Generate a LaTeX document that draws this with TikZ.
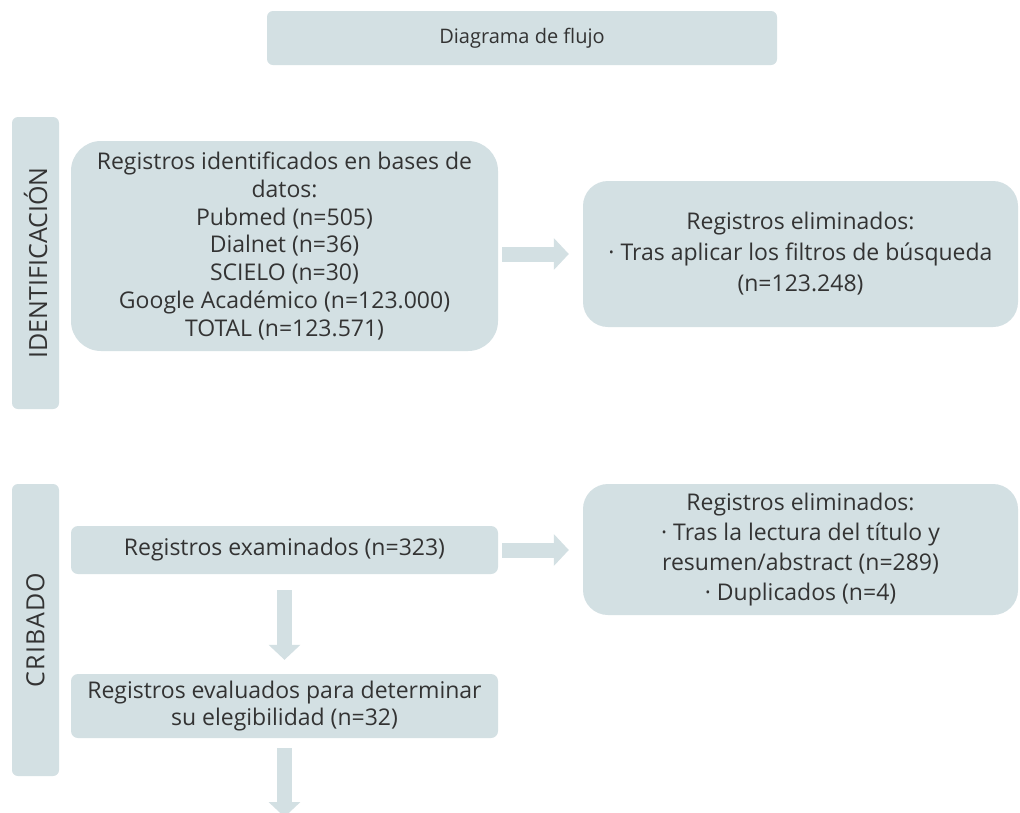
\documentclass[tikz,border=0pt]{standalone}
\usepackage{fontspec}
\setmainfont{Open Sans}
\usetikzlibrary{arrows.meta}
\definecolor{boxfill}{HTML}{D3E0E3}
\definecolor{txt}{HTML}{333333}
\begin{document}
\begin{tikzpicture}[x=1pt,y=-1pt,
  box/.style={fill=boxfill, text=txt, align=center, inner sep=0pt,
    font=\fontsize{23}{27.7}\selectfont},
  sidelabel/.style={box, rounded corners=6pt, rotate=90, minimum width=292pt,
    minimum height=47pt, font=\fontsize{25}{28}\selectfont},
  flowarrow/.style={draw=boxfill, line width=15pt,
    -{Triangle[length=15pt,width=31pt]}}]
\useasboundingbox (0,0) rectangle (1020,812);
\clip (0,0) rectangle (1020,812);
\fill[white] (0,0) rectangle (1020,812);

\node[box, rounded corners=6pt, minimum width=510pt, minimum height=54pt,
  font=\fontsize{20}{24}\selectfont] (title) at (522,38) {Diagrama de flujo};

\node[sidelabel] (idbar) at (35.5,263) {IDENTIFICACIÓN};

\node[box, rounded corners=30pt, minimum width=427pt, minimum height=210pt]
  (b1) at (284.5,246) {Registros identificados en bases de\\ datos:\\ Pubmed (n=505)\\
  Dialnet (n=36)\\ SCIELO (n=30)\\ Google Académico (n=123.000)\\ TOTAL (n=123.571)};

\node[box, rounded corners=25pt, minimum width=435pt, minimum height=146pt,
  font=\fontsize{23}{31}\selectfont]
  (b2) at (800.5,254) {Registros eliminados:\\ · Tras aplicar los filtros de búsqueda\\ (n=123.248)};

\node[sidelabel, font=\fontsize{25}{28}\selectfont\addfontfeatures{LetterSpace=5}]
  (crbar) at (35.5,630) {CRIBADO};

\node[box, rounded corners=7pt, minimum width=427pt, minimum height=48pt]
  (ex) at (284.5,550) {Registros examinados (n=323)};

\node[box, rounded corners=7pt, minimum width=427pt, minimum height=64pt]
  (ev) at (284.5,706) {Registros evaluados para determinar\\ su elegibilidad (n=32)};

\node[box, rounded corners=25pt, minimum width=435pt, minimum height=131pt,
  font=\fontsize{23}{30}\selectfont]
  (b3) at (800.5,549.5) {Registros eliminados:\\ · Tras la lectura del título y\\
  resumen/abstract (n=289)\\ · Duplicados (n=4)};

\coordinate (evend) at (284.5,817);

\draw[flowarrow, shorten <=4pt, shorten >=14pt] (b1.east |- b2.west) -- (b2.west);
\draw[flowarrow, shorten <=4pt, shorten >=14pt] (ex.east) -- (ex.east -| b3.west);
\draw[flowarrow, shorten <=16pt, shorten >=14pt] (ex.south) -- (ev.north);
\draw[flowarrow, shorten <=10pt] (ev.south) -- (evend);
\end{tikzpicture}
\end{document}
